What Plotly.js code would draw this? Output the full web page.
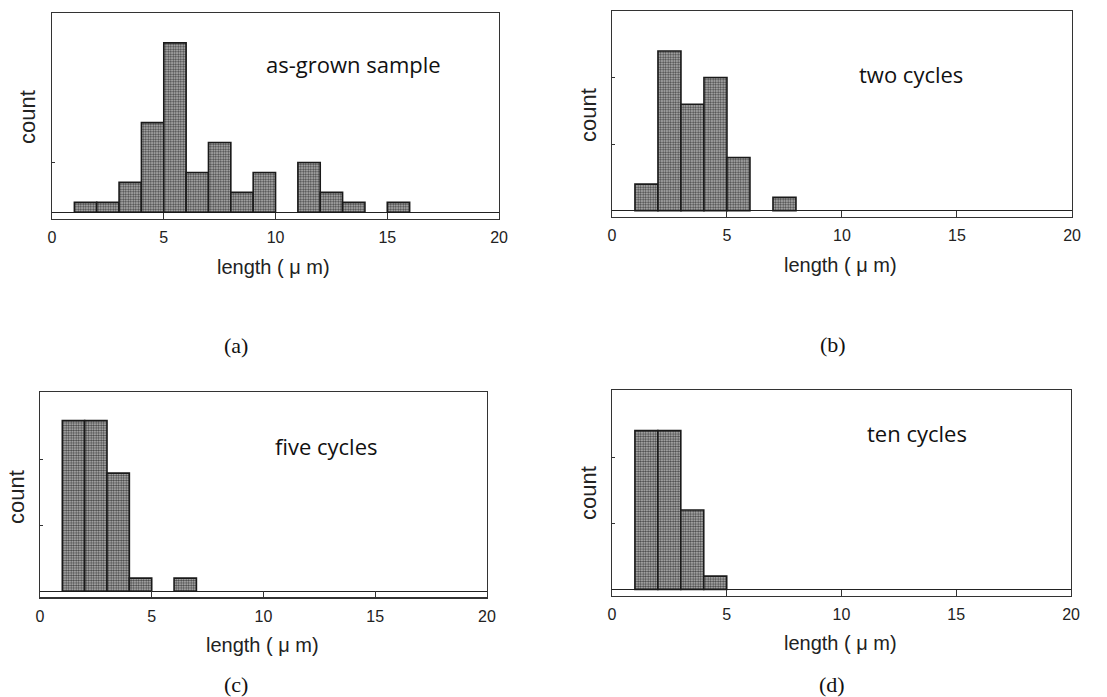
<!DOCTYPE html>
<html>
<head>
<meta charset="utf-8">
<script src="https://cdn.plot.ly/plotly-3.0.1.min.js"></script>
<style>html,body{margin:0;padding:0;background:#fff;}#chart{width:1107px;height:697px;}</style>
</head>
<body>
<div id="chart"></div>
<script>
// Bin centres (length, µm) and counts for each sample
const binsA = [1.5, 2.5, 3.5, 4.5, 5.5, 6.5, 7.5, 8.5, 9.5, 11.5, 12.5, 13.5, 15.5];
const countsA = [1, 1, 3, 9, 17, 4, 7, 2, 4, 5, 2, 1, 1];
const binsB = [1.5, 2.5, 3.5, 4.5, 5.5, 7.5];
const countsB = [2, 12, 8, 10, 4, 1];
const binsC = [1.5, 2.5, 3.5, 4.5, 6.5];
const countsC = [13, 13, 9, 1, 1];
const binsD = [1.5, 2.5, 3.5, 4.5];
const countsD = [12, 12, 6, 1];
const sampleNames = ["as-grown sample", "two cycles", "five cycles", "ten cycles"];
const panelLabels = ["(a)", "(b)", "(c)", "(d)"];
const xTicks = [0, 5, 10, 15, 20];
const xTickText = ["0", "5", "10", "15", "20"];
const xTitle = "length ( \u03bc m)";
const yTitle = "count";

const bins = [binsA, binsB, binsC, binsD];
const counts = [countsA, countsB, countsC, countsD];
const yRanges = [[-0.67, 20], [-0.45, 15], [-0.46, 15.2], [-0.5, 15.05]];
const yTickSets = [[5], [5, 10], [5, 10], [5, 10]];
const labelPos = [[13.5, 14.9], [13.0, 10.3], [12.8, 11.1], [13.3, 11.8]];

const xDomains = [[0.0470, 0.4508], [0.5528, 0.9684], [0.0361, 0.4399], [0.5528, 0.9675]];
const yDomains = [[0.6858, 0.9813], [0.6891, 0.9842], [0.1430, 0.4380], [0.1449, 0.4400]];

const traces = [];
const layout = {
  width: 1107, height: 697,
  margin: {l: 0, r: 0, t: 0, b: 0},
  paper_bgcolor: "#fff", plot_bgcolor: "#fff",
  showlegend: false,
  bargap: 0,
  annotations: [],
  font: {family: "Liberation Sans, Arial, sans-serif", color: "#222"}
};

for (let i = 0; i < 4; i++) {
  const n = i === 0 ? "" : String(i + 1);
  traces.push({
    type: "bar",
    x: bins[i], y: counts[i], width: 1,
    xaxis: "x" + n, yaxis: "y" + n,
    marker: {
      color: "#9a9a9a",
      line: {color: "#1a1a1a", width: 1.6},
      pattern: {shape: ".", fgcolor: "#444", bgcolor: "#bdbdbd", size: 2.5, solidity: 0.5}
    },
    hoverinfo: "skip"
  });
  layout["xaxis" + n] = {
    domain: xDomains[i], anchor: "y" + n, range: [0, 20],
    tickvals: xTicks, ticktext: xTickText, ticks: "inside", ticklen: 6, tickcolor: "#333", tickwidth: 1,
    ticklabelstandoff: 4,
    showline: true, mirror: true, linecolor: "#333", linewidth: 1.2,
    showgrid: false, zeroline: false, fixedrange: true,
    tickfont: {family: "Liberation Sans, Arial, sans-serif", size: 16, color: "#222"}
  };
  layout["yaxis" + n] = {
    domain: yDomains[i], anchor: "x" + n, range: yRanges[i],
    tickvals: yTickSets[i], ticks: "inside", ticklen: 3, tickcolor: "#333",
    showticklabels: false,
    showline: true, mirror: true, linecolor: "#333", linewidth: 1.2,
    showgrid: false, zeroline: true, zerolinecolor: "#222", zerolinewidth: 1.4, fixedrange: true
  };
  layout.annotations.push({
    xref: "x" + n, yref: "y" + n, x: labelPos[i][0], y: labelPos[i][1],
    text: sampleNames[i], showarrow: false,
    font: {family: "Open Sans, sans-serif", size: 22, color: "#111"}
  });
}

// axis titles and panel labels (pixel positions converted to paper)
const W = 1107, H = 697;
const xTitlePos = [[273, 267], [840, 265], [262, 645], [840, 643]];
const yTitlePos = [[28, 117], [588, 115], [16, 497], [588, 493]];
const panelPos = [[236, 346], [833, 344], [236, 684], [832, 684]];
for (let i = 0; i < 4; i++) {
  layout.annotations.push({
    xref: "paper", yref: "paper", x: xTitlePos[i][0] / W, y: 1 - xTitlePos[i][1] / H,
    xanchor: "center", yanchor: "middle",
    text: xTitle, showarrow: false,
    font: {family: "Liberation Sans, Arial, sans-serif", size: 20, color: "#222"}
  });
  layout.annotations.push({
    xref: "paper", yref: "paper", x: yTitlePos[i][0] / W, y: 1 - yTitlePos[i][1] / H,
    xanchor: "center", yanchor: "middle", textangle: -90,
    text: yTitle, showarrow: false,
    font: {family: "Liberation Sans, Arial, sans-serif", size: 22, color: "#222"}
  });
  layout.annotations.push({
    xref: "paper", yref: "paper", x: panelPos[i][0] / W, y: 1 - panelPos[i][1] / H,
    xanchor: "center", yanchor: "middle",
    text: panelLabels[i], showarrow: false,
    font: {family: "Liberation Serif, Times New Roman, serif", size: 22, color: "#111"}
  });
}

Plotly.newPlot("chart", traces, layout, {staticPlot: true, displayModeBar: false});
</script>
</body>
</html>
